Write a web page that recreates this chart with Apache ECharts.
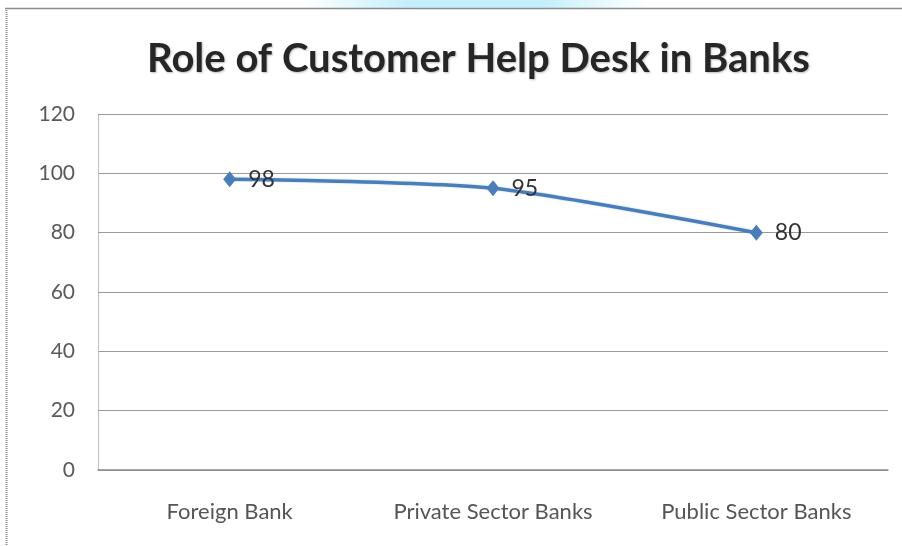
<!DOCTYPE html>
<html>
<head>
<meta charset="utf-8">
<script src="https://cdn.jsdelivr.net/npm/echarts@6/dist/echarts.min.js"></script>
<style>
  html, body { margin: 0; padding: 0; background: #ffffff; }
  #chart { width: 902px; height: 546px; }
</style>
</head>
<body>
<div id="chart"></div>
<script>
// Survey share of respondents rating the help desk useful, by bank type
const chartTitle = 'Role of Customer Help Desk in Banks';
const categories = ['Foreign Bank', 'Private Sector Banks', 'Public Sector Banks'];
const helpDeskValues = [98, 95, 80];
const yTicks = [0, 20, 40, 60, 80, 100, 120];

const chart = echarts.init(document.getElementById('chart'), null, { renderer: 'canvas' });

chart.setOption({
  backgroundColor: '#ffffff',
  animation: false,
  title: {
    text: chartTitle,
    left: 142,
    top: 34,
    textStyle: {
      fontFamily: 'Lato',
      fontWeight: 'bold',
      fontSize: 40,
      color: '#262626',
      textShadowColor: 'rgba(0,0,0,0.25)',
      textShadowBlur: 2,
      textShadowOffsetX: 1,
      textShadowOffsetY: 1
    }
  },
  graphic: [
    // light cyan band at the top edge
    {
      type: 'rect',
      shape: { x: 300, y: 0, width: 350, height: 8 },
      style: {
        fill: {
          type: 'linear', x: 0, y: 0, x2: 1, y2: 0,
          colorStops: [
            { offset: 0, color: 'rgba(200,240,250,0)' },
            { offset: 0.3, color: 'rgba(190,238,250,0.9)' },
            { offset: 0.7, color: 'rgba(190,238,250,0.9)' },
            { offset: 1, color: 'rgba(200,240,250,0)' }
          ]
        }
      },
      silent: true
    },
    // outer frame: top rule and dotted left edge
    {
      type: 'line',
      shape: { x1: 5, y1: 8.5, x2: 902, y2: 8.5 },
      style: { stroke: '#8c8c8c', lineWidth: 1.5 },
      silent: true
    },
    {
      type: 'line',
      shape: { x1: 6.5, y1: 8, x2: 6.5, y2: 546 },
      style: { stroke: '#8c8c8c', lineWidth: 2, lineDash: [1, 1] },
      silent: true
    }
  ],
  grid: {
    left: 98,
    right: 14,
    top: 114,
    bottom: 76
  },
  xAxis: {
    type: 'category',
    data: categories,
    boundaryGap: true,
    axisLine: { show: true, lineStyle: { color: '#8c8c8c', width: 1.5 } },
    axisTick: { show: false },
    axisLabel: {
      margin: 31,
      fontFamily: 'Lato',
      fontSize: 22,
      color: '#555555'
    }
  },
  yAxis: {
    type: 'value',
    min: yTicks[0],
    max: yTicks[yTicks.length - 1],
    interval: 20,
    axisLine: { show: true, lineStyle: { color: '#b0b0b0', width: 1, type: 'dotted' } },
    axisTick: { show: false },
    axisLabel: {
      margin: 23,
      fontFamily: 'Lato',
      fontSize: 21,
      color: '#5a5a5a'
    },
    splitLine: { show: true, lineStyle: { color: '#9a9a9a', width: 1 } }
  },
  series: [
    {
      type: 'line',
      data: helpDeskValues,
      smooth: 0.25,
      symbol: 'diamond',
      symbolSize: [13, 16],
      itemStyle: { color: '#4a7ebb' },
      lineStyle: {
        color: '#4a7ebb',
        width: 3.5,
        shadowColor: 'rgba(74,126,187,0.35)',
        shadowBlur: 2
      },
      label: {
        show: true,
        position: 'right',
        distance: 12,
        fontFamily: 'Lato',
        fontSize: 23,
        color: '#333333'
      }
    }
  ]
});
</script>
</body>
</html>
